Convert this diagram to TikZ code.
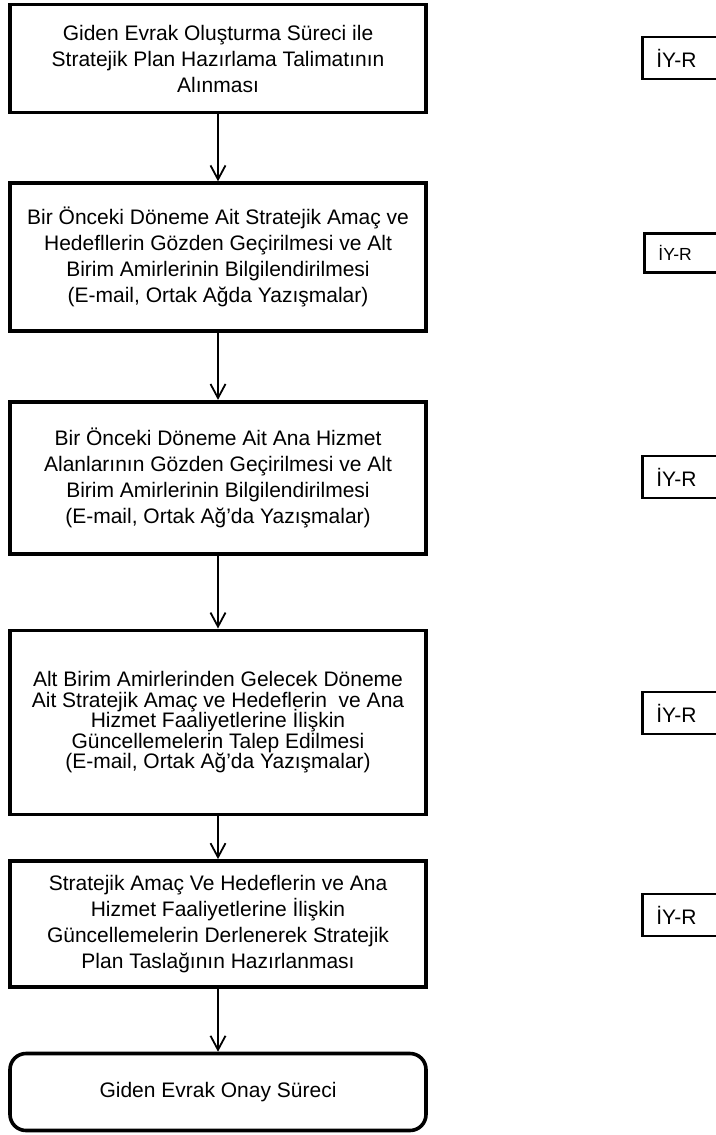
\documentclass[tikz,border=0pt]{standalone}
\usepackage{fontspec}
\setmainfont{Liberation Sans}
\usetikzlibrary{arrows.meta,positioning}
\newcommand{\tightlines}{\fontsize{10.5}{10.2}\selectfont\lineskiplimit=-4pt\relax}

\begin{document}
\begin{tikzpicture}[
    x=0.5pt, y=-0.5pt,
    node distance=33.5pt,
    box/.style={rectangle, draw=black, line width=1.8pt, align=center, minimum width=208pt, font=\fontsize{10.5}{13}\selectfont},
    tag/.style={rectangle, draw=black, line width=1.4pt, anchor=west, align=left, text width=28pt, inner xsep=7pt, minimum height=21pt, font=\fontsize{10.5}{12}\selectfont},
    arrow/.style={-{Straight Barb[length=7pt,width=7.5pt]}, line width=0.9pt}
]
\useasboundingbox (0,0) rectangle (716,1135);
\clip (0,0) rectangle (716,1135);
% steps of the process
\node[box, minimum height=54pt] (s1) at (218,58.5) {Giden Evrak Oluşturma Süreci ile\\Stratejik Plan Hazırlama Talimatının\\Alınması};
\node[box, minimum height=74pt, below=33.5pt of s1] (s2) {Bir Önceki Döneme Ait Stratejik Amaç ve\\Hedefllerin Gözden Geçirilmesi ve Alt\\Birim Amirlerinin Bilgilendirilmesi\\(E-mail, Ortak Ağda Yazışmalar)};
\node[box, minimum height=76pt, below=33.5pt of s2] (s3) {Bir Önceki Döneme Ait Ana Hizmet\\Alanlarının Gözden Geçirilmesi ve Alt\\Birim Amirlerinin Bilgilendirilmesi\\(E-mail, Ortak Ağ'da Yazışmalar)};
\node[box, minimum height=92pt, below=36.5pt of s3, font=\tightlines] (s4) {Alt Birim Amirlerinden Gelecek Döneme\\Ait Stratejik Amaç ve Hedeflerin\ \ ve Ana\\Hizmet Faaliyetlerine İlişkin\\Güncellemelerin Talep Edilmesi\\(E-mail, Ortak Ağ'da Yazışmalar)};
\node[box, minimum height=63pt, below=21.5pt of s4] (s5) {Stratejik Amaç Ve Hedeflerin ve Ana\\Hizmet Faaliyetlerine İlişkin\\Güncellemelerin Derlenerek Stratejik\\Plan Taslağının Hazırlanması};
\node[box, rounded corners=8pt, minimum height=38.5pt, below=31.5pt of s5] (s6) {Giden Evrak Onay Süreci};
\draw[arrow] (s1) -- (s2);
\draw[arrow] (s2) -- (s3);
\draw[arrow] (s3) -- (s4);
\draw[arrow] (s4) -- (s5);
\draw[arrow] (s5) -- (s6);
% responsible unit tags
\node[tag] (t1) at (641,58) {İY-R};
\node[tag, font=\fontsize{8.75}{10}\selectfont, minimum height=19.5pt] (t2) at (643,253) {İY-R};
\node[tag] (t3) at (641,477) {İY-R};
\node[tag] (t4) at (641,713) {İY-R};
\node[tag] (t5) at (641,915) {İY-R};
\end{tikzpicture}
\end{document}
